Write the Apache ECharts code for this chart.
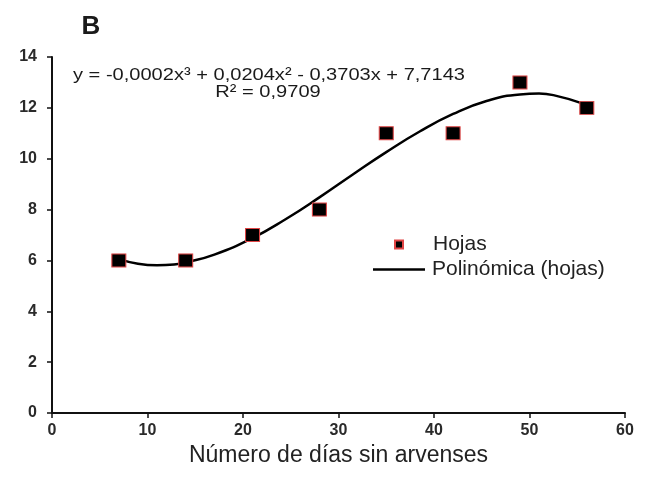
<!DOCTYPE html>
<html>
<head>
<meta charset="utf-8">
<script src="https://cdn.jsdelivr.net/npm/echarts@6/dist/echarts.min.js"></script>
<style>
  html, body { margin: 0; padding: 0; background: #fff; }
  #chart { width: 646px; height: 480px; }
</style>
</head>
<body>
<div id="chart"></div>
<script>
// datos observados
let dias = [7, 14, 21, 28, 35, 42, 49, 56];
let hojas = [6, 6, 7, 8, 11, 11, 13, 12];

// línea de tendencia
let tendX = [7, 9, 11, 13, 14, 17, 21, 24.5, 28, 31.5, 35, 38.5, 42, 45.5, 49, 51, 52.5, 56];
let tendY = [6.05, 5.87, 5.81, 5.85, 5.92, 6.23, 6.88, 7.63, 8.48, 9.38, 10.26, 11.07, 11.76, 12.27, 12.53, 12.56, 12.5, 12.12];

let xTicks = [0, 10, 20, 30, 40, 50, 60];
let yTicks = [0, 2, 4, 6, 8, 10, 12, 14];

let font = 'Liberation Sans, Arial, sans-serif';
let myChart = echarts.init(document.getElementById('chart'));

myChart.setOption({
  animation: false,
  grid: {
    left: 52,
    right: 21,
    top: 57,
    bottom: 67
  },
  xAxis: {
    type: 'value',
    min: xTicks[0],
    max: xTicks[xTicks.length - 1],
    interval: 10,
    name: 'Número de días sin arvenses',
    nameLocation: 'middle',
    nameGap: 29,
    nameTextStyle: { fontFamily: font, fontSize: 23, color: '#222' },
    splitLine: { show: false },
    axisLine: { lineStyle: { color: '#111', width: 2 } },
    axisTick: { length: 5, lineStyle: { color: '#111', width: 1.5 } },
    axisLabel: { fontFamily: font, fontSize: 16, fontWeight: 'bold', color: '#2a2a2a', margin: 10 }
  },
  yAxis: {
    type: 'value',
    min: yTicks[0],
    max: yTicks[yTicks.length - 1],
    interval: 2,
    splitLine: { show: false },
    axisLine: { show: true, lineStyle: { color: '#111', width: 2 } },
    axisTick: { show: true, length: 5, lineStyle: { color: '#111', width: 1.5 } },
    axisLabel: { fontFamily: font, fontSize: 16, fontWeight: 'bold', color: '#2a2a2a', margin: 15 }
  },
  legend: [{
    data: [{ name: 'Hojas', icon: 'rect' }],
    orient: 'vertical',
    left: 394,
    top: 234,
    padding: 0,
    itemWidth: 8,
    itemHeight: 8,
    selectedMode: false,
    textStyle: { fontFamily: font, fontSize: 21, color: '#222', padding: [0, 0, 0, 25] }
  }, {
    data: [{ name: 'Polinómica (hojas)', icon: 'rect' }],
    orient: 'vertical',
    left: 373,
    top: 259,
    padding: 0,
    itemWidth: 52,
    itemHeight: 2.5,
    selectedMode: false,
    textStyle: { fontFamily: font, fontSize: 21, color: '#222', padding: [0, 0, 0, 2] }
  }],
  graphic: [{
    type: 'text',
    x: 91,
    y: 27,
    style: {
      text: 'B', fontFamily: font, fontSize: 26, fontWeight: 'bold', fill: '#1a1a1a',
      align: 'center', verticalAlign: 'middle'
    }
  }, {
    type: 'text',
    x: 269,
    y: 75,
    scaleX: 1.18,
    style: {
      text: 'y = -0,0002x³ + 0,0204x² - 0,3703x + 7,7143',
      fontFamily: font, fontSize: 17, fill: '#1a1a1a',
      align: 'center', verticalAlign: 'middle'
    }
  }, {
    type: 'text',
    x: 268,
    y: 92,
    scaleX: 1.18,
    style: {
      text: 'R² = 0,9709',
      fontFamily: font, fontSize: 17, fill: '#1a1a1a',
      align: 'center', verticalAlign: 'middle'
    }
  }],
  series: [{
    name: 'Polinómica (hojas)',
    type: 'line',
    smooth: true,
    symbol: 'none',
    color: '#000',
    lineStyle: { color: '#000', width: 2.5 },
    z: 2,
    data: tendX.map((v, i) => [v, tendY[i]])
  }, {
    name: 'Hojas',
    type: 'scatter',
    symbol: 'rect',
    symbolSize: [14, 13],
    itemStyle: { color: '#000', borderColor: '#e04545', borderWidth: 1, opacity: 1 },
    z: 3,
    data: dias.map((v, i) => [v, hojas[i]])
  }]
});
</script>
</body>
</html>
